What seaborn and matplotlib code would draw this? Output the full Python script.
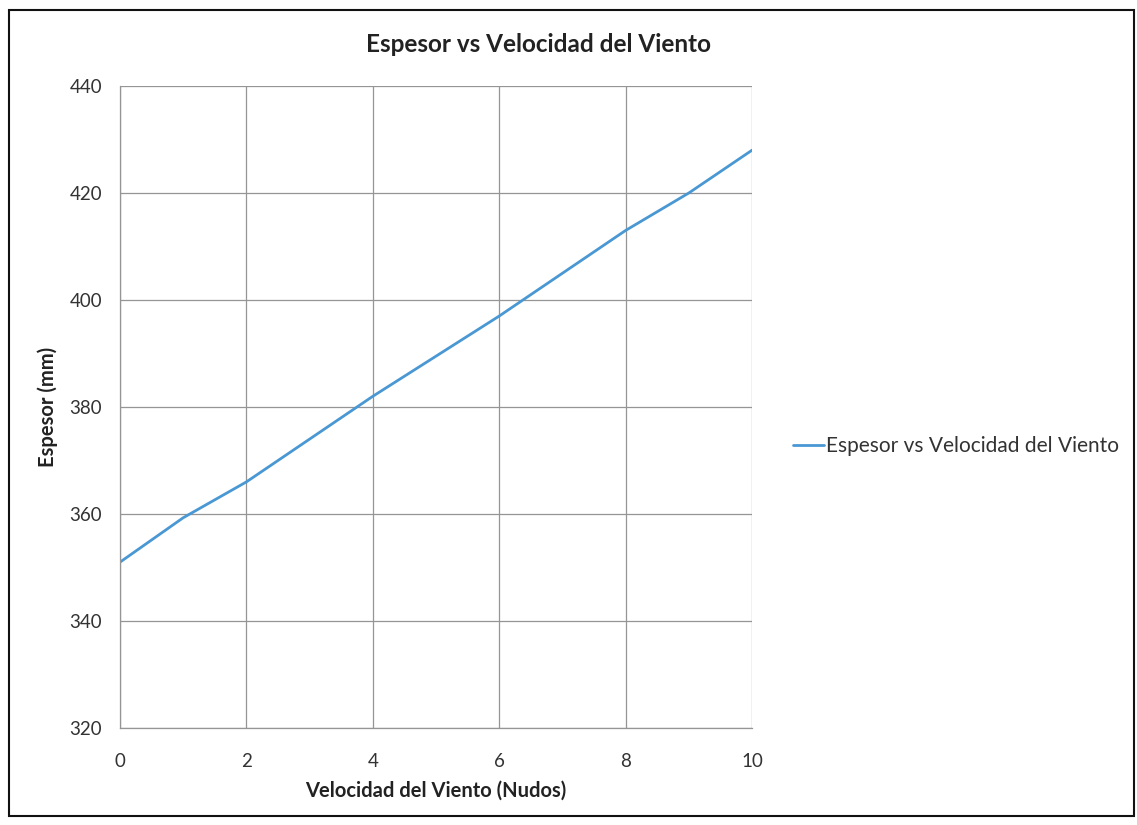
import matplotlib
matplotlib.use("Agg")
import matplotlib.pyplot as plt
from matplotlib.patches import Rectangle
import pandas as pd
import seaborn as sns

# Wind speed (knots) and resulting thickness (mm)
velocidad = [0, 1, 2, 3, 4, 5, 6, 7, 8, 9, 10]
espesor = [351.0, 359.3, 366.0, 374.0, 382.0, 389.5, 397.0, 405.0, 413.0, 420.0, 428.0]
serie = "Espesor vs Velocidad del Viento"

x_ticks = [0, 2, 4, 6, 8, 10]
y_ticks = [320, 340, 360, 380, 400, 420, 440]

df = pd.DataFrame({"Velocidad": velocidad, "Espesor": espesor, "Serie": serie})

sns.set_theme(style="white")
plt.rcParams["font.family"] = ["Lato", "DejaVu Sans"]

fig = plt.figure(figsize=(11.37, 8.25), dpi=100)
ax = fig.add_axes([120 / 1137, 1 - 728 / 825, 632 / 1137, 642 / 825])

sns.lineplot(data=df, x="Velocidad", y="Espesor", hue="Serie",
             palette=["#4A98D3"], linewidth=2.0, ax=ax, legend=True)

ax.set_xlim(0, 10)
ax.set_ylim(320, 440)
ax.set_xticks(x_ticks)
ax.set_yticks(y_ticks)
ax.grid(True, color="#959595", linewidth=0.9)
ax.set_axisbelow(True)

for side in ["top", "right"]:
    ax.spines[side].set_visible(False)
for side in ["left", "bottom"]:
    ax.spines[side].set_color("#959595")
    ax.spines[side].set_linewidth(0.9)

ax.tick_params(axis="both", which="major", direction="out", length=7,
               width=0.9, color="#959595", labelsize=13.5, labelcolor="#333333")
ax.tick_params(axis="y", pad=6)
ax.tick_params(axis="x", pad=11)

ax.set_xlabel("Velocidad del Viento (Nudos)", fontsize=14.5, fontweight="bold",
              color="#222222", labelpad=8)
ax.set_ylabel("Espesor (mm)", fontsize=14.5, fontweight="bold",
              color="#222222", labelpad=8)
fig.text(538 / 1137, 1 - 44 / 825, serie, ha="center", va="center",
         fontsize=17.5, fontweight="bold", color="#222222")

handles, labels = ax.get_legend_handles_labels()
ax.legend(handles, labels, loc="center left", bbox_to_anchor=(1.035, 0.439),
          frameon=False, handlelength=1.5, handletextpad=0.1,
          fontsize=15, labelcolor="#333333")

# outer chart frame
fig.patches.append(Rectangle((9 / 1137, 1 - 816 / 825), 1125 / 1137, 806 / 825,
                             transform=fig.transFigure, fill=False,
                             edgecolor="#111111", linewidth=1.5))

fig.savefig("out.png", dpi=100, facecolor="white")
